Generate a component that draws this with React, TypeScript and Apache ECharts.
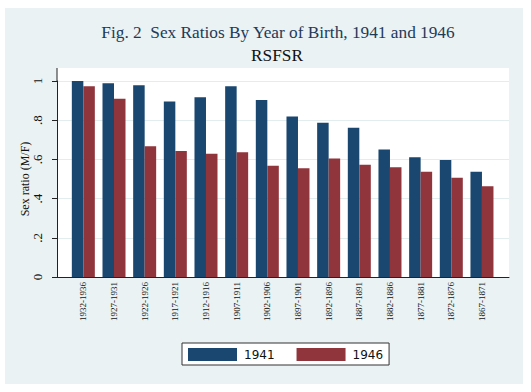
import React, { useEffect, useRef } from "react";
import * as echarts from "echarts";

const categories = [
  "1932-1936", "1927-1931", "1922-1926", "1917-1921", "1912-1916", "1907-1911", "1902-1906",
  "1897-1901", "1892-1896", "1887-1891", "1882-1886", "1877-1881", "1872-1876", "1867-1871",
];
const values1941 = [1.0, 0.988, 0.978, 0.896, 0.917, 0.973, 0.903, 0.819, 0.787, 0.762, 0.651, 0.611, 0.597, 0.537];
const values1946 = [0.973, 0.91, 0.667, 0.643, 0.629, 0.636, 0.568, 0.555, 0.604, 0.573, 0.56, 0.537, 0.507, 0.463];
const yTicks = [0, 0.2, 0.4, 0.6, 0.8, 1];
const yTickLabels = ["0", ".2", ".4", ".6", ".8", "1"];
const titleText = "Fig. 2  Sex Ratios By Year of Birth, 1941 and 1946";
const subtitleText = "RSFSR";
const yName = "Sex ratio (M/F)";
const seriesNames = ["1941", "1946"];

const BLUE = "#1a476f";
const RED = "#90353b";
const BG = "#eaf2f3";
const SERIF = "'Liberation Serif', 'Times New Roman', serif";

export default function App() {
  const ref = useRef<HTMLDivElement>(null);
  useEffect(() => {
    if (!ref.current) return;
    const chart = echarts.init(ref.current, undefined, { renderer: "svg" });
    const W = 531;
    const plotL = 57, plotR = 509, plotT = 68, axisY = 277, oneY = 81;
    const barL = 68, barR = 497.3;
    chart.setOption({
      animation: false,
      backgroundColor: "#ffffff",
      graphic: [
        { type: "rect", z: -10, shape: { x: 5, y: 8, width: 518, height: 376 }, style: { fill: BG } },
        { type: "rect", z: -9, shape: { x: plotL, y: plotT, width: plotR - plotL, height: axisY - plotT }, style: { fill: "#ffffff" } },
        { type: "line", z: 5, shape: { x1: plotL, y1: plotT, x2: plotL, y2: oneY }, style: { stroke: "#222", lineWidth: 1 } },
        {
          type: "text",
          x: 278,
          y: 32,
          style: {
            text: titleText,
            align: "center",
            verticalAlign: "middle",
            fontFamily: SERIF,
            fontSize: 17.3,
            fill: "#1e3a5a",
          },
        },
        {
          type: "text",
          x: 277,
          y: 55,
          style: {
            text: subtitleText,
            align: "center",
            verticalAlign: "middle",
            fontFamily: SERIF,
            fontSize: 17.3,
            fill: "#111111",
          },
        },
      ],
      legend: {
        data: seriesNames,
        left: 182,
        top: 343,
        backgroundColor: "#ffffff",
        borderColor: "#333",
        borderWidth: 1,
        padding: [5, 6, 4, 6],
        itemWidth: 49,
        itemHeight: 13,
        itemGap: 22,
        icon: "rect",
        textStyle: { fontFamily: "'DejaVu Sans', sans-serif", fontSize: 12, color: "#111", padding: [0, 0, 0, 2] },
      },
      grid: [
        { left: plotL, right: W - plotR, top: oneY, bottom: 392 - axisY, containLabel: false },
        { left: barL, right: W - barR, top: oneY, bottom: 392 - axisY, containLabel: false },
      ],
      xAxis: [
        {
          gridIndex: 0,
          type: "value",
          min: 0,
          max: 1,
          axisLine: { show: true, onZero: false, lineStyle: { color: "#222", width: 1 } },
          axisTick: { show: false },
          axisLabel: { show: false },
          splitLine: { show: false },
        },
        {
          gridIndex: 1,
          type: "category",
          data: categories,
          axisLine: { show: false },
          axisTick: { show: false },
          axisLabel: {
            rotate: 90,
            interval: 0,
            margin: 5,
            fontFamily: SERIF,
            fontSize: 9,
            color: "#111",
          },
        },
      ],
      yAxis: [
        {
          gridIndex: 0,
          type: "value",
          min: 0,
          max: 1,
          interval: 0.2,
          name: yName,
          nameLocation: "middle",
          nameRotate: 90,
          nameGap: 26,
          nameMoveOverlap: false,
          nameTextStyle: { fontFamily: SERIF, fontSize: 12, color: "#111" },
          axisLine: { show: true, lineStyle: { color: "#222", width: 1 } },
          axisTick: { show: true, length: 5, lineStyle: { color: "#222" } },
          axisLabel: {
            rotate: 90,
            margin: 13,
            fontFamily: SERIF,
            fontSize: 13,
            color: "#111",
            formatter: (v: number) => {
              const i = yTicks.findIndex((t) => Math.abs(t - v) < 1e-6);
              return i >= 0 ? yTickLabels[i] : "";
            },
          },
          splitLine: { show: true, lineStyle: { color: "#e3eded", width: 1 } },
        },
        {
          gridIndex: 1,
          type: "value",
          min: 0,
          max: 1,
          show: false,
          splitLine: { show: false },
        },
      ],
      series: [
        {
          name: seriesNames[0],
          type: "bar",
          xAxisIndex: 1,
          yAxisIndex: 1,
          data: values1941,
          barWidth: 11.5,
          barGap: "0%",
          itemStyle: { color: BLUE },
        },
        {
          name: seriesNames[1],
          type: "bar",
          xAxisIndex: 1,
          yAxisIndex: 1,
          data: values1946,
          barWidth: 11.5,
          barGap: "0%",
          itemStyle: { color: RED },
        },
      ],
    });
    return () => chart.dispose();
  }, []);
  return <div ref={ref} style={{ position: "absolute", left: 0, top: 0, width: 531, height: 392 }} />;
}
